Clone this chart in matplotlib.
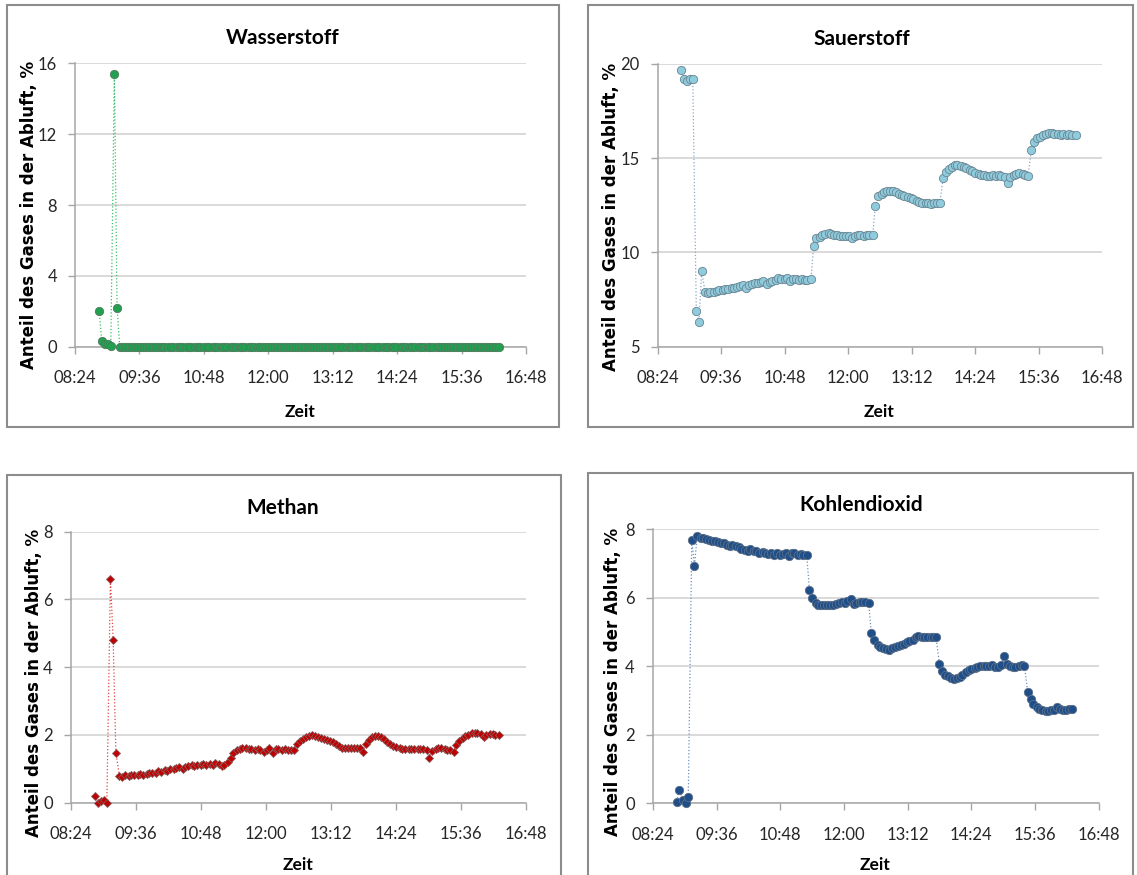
import numpy as np
import matplotlib
matplotlib.use("Agg")
import matplotlib.pyplot as plt
from matplotlib import font_manager
from matplotlib.patches import Rectangle

# measurement times (same for all four gases)
times = [
    "08:51", "08:54", "08:58",
    "09:01", "09:04", "09:08", "09:11", "09:14", "09:18", "09:21", "09:24", "09:28",
    "09:31", "09:34", "09:38", "09:41", "09:44", "09:48", "09:51", "09:54", "09:58",
    "10:01", "10:04", "10:08", "10:11", "10:14", "10:18", "10:21", "10:24", "10:28",
    "10:31", "10:34", "10:38", "10:41", "10:44", "10:48", "10:51", "10:54", "10:58",
    "11:01", "11:04", "11:08", "11:11", "11:14", "11:18", "11:21", "11:24", "11:28",
    "11:31", "11:34", "11:38", "11:41", "11:44", "11:48", "11:51", "11:54", "11:58",
    "12:01", "12:04", "12:08", "12:11", "12:14", "12:18", "12:21", "12:24", "12:28",
    "12:31", "12:34", "12:38", "12:41", "12:44", "12:48", "12:51", "12:54", "12:58",
    "13:01", "13:04", "13:08", "13:11", "13:14", "13:18", "13:21", "13:24", "13:28",
    "13:31", "13:34", "13:38", "13:41", "13:44", "13:48", "13:51", "13:54", "13:58",
    "14:01", "14:04", "14:08", "14:11", "14:14", "14:18", "14:21", "14:24", "14:28",
    "14:31", "14:34", "14:38", "14:41", "14:44", "14:48", "14:51", "14:54", "14:58",
    "15:01", "15:04", "15:08", "15:11", "15:14", "15:18", "15:21", "15:24", "15:28",
    "15:31", "15:34", "15:38", "15:41", "15:44", "15:48", "15:51", "15:54", "15:58",
    "16:01", "16:04", "16:08", "16:11", "16:14", "16:18",
]

# Wasserstoff, %
h2 = [
    2.0, 0.3, 0.15, 0.15, 0.05, 15.4, 2.2, 0.0, 0.0, 0.0,
    0.0, 0.0, 0.0, 0.0, 0.0, 0.0, 0.0, 0.0, 0.0, 0.0, 0.0, 0.0, 0.0, 0.0, 0.0,
    0.0, 0.0, 0.0, 0.0, 0.0, 0.0, 0.0, 0.0, 0.0, 0.0, 0.0, 0.0, 0.0, 0.0, 0.0,
    0.0, 0.0, 0.0, 0.0, 0.0, 0.0, 0.0, 0.0, 0.0, 0.0, 0.0, 0.0, 0.0, 0.0, 0.0,
    0.0, 0.0, 0.0, 0.0, 0.0, 0.0, 0.0, 0.0, 0.0, 0.0, 0.0, 0.0, 0.0, 0.0, 0.0,
    0.0, 0.0, 0.0, 0.0, 0.0, 0.0, 0.0, 0.0, 0.0, 0.0, 0.0, 0.0, 0.0, 0.0, 0.0,
    0.0, 0.0, 0.0, 0.0, 0.0, 0.0, 0.0, 0.0, 0.0, 0.0, 0.0, 0.0, 0.0, 0.0, 0.0,
    0.0, 0.0, 0.0, 0.0, 0.0, 0.0, 0.0, 0.0, 0.0, 0.0, 0.0, 0.0, 0.0, 0.0, 0.0,
    0.0, 0.0, 0.0, 0.0, 0.0, 0.0, 0.0, 0.0, 0.0, 0.0, 0.0, 0.0, 0.0, 0.0, 0.0,
    0.0, 0.0, 0.0, 0.0, 0.0,
]

# Sauerstoff, %
o2 = [
    19.7, 19.2, 19.1, 19.2, 19.2, 6.9, 6.3, 9.0, 7.9, 7.85,
    7.88, 7.92, 7.95, 8.0, 8.02, 8.05, 8.08, 8.1, 8.12, 8.15,
    8.22, 8.28, 8.12, 8.25, 8.32, 8.38, 8.4, 8.44, 8.46, 8.35,
    8.42, 8.48, 8.55, 8.62, 8.6, 8.58, 8.63, 8.5, 8.6, 8.58,
    8.55, 8.6, 8.56, 8.55, 8.58, 10.35, 10.76, 10.82, 10.95, 11.0,
    11.02, 10.98, 10.95, 10.92, 10.9, 10.85, 10.9, 10.88, 10.75, 10.9,
    10.95, 10.92, 10.9, 10.93, 10.92, 10.92, 12.49, 12.97, 13.1, 13.23,
    13.25, 13.27, 13.27, 13.2, 13.1, 13.06, 13.0, 12.95, 12.88, 12.82,
    12.75, 12.7, 12.65, 12.62, 12.6, 12.58, 12.62, 12.6, 12.6, 13.97,
    14.25, 14.42, 14.55, 14.62, 14.65, 14.6, 14.55, 14.5, 14.4, 14.3,
    14.22, 14.15, 14.12, 14.1, 14.08, 14.08, 14.1, 14.05, 14.1, 14.05,
    14.0, 13.67, 14.0, 14.1, 14.15, 14.2, 14.15, 14.1, 14.05, 15.44,
    15.88, 16.05, 16.15, 16.22, 16.28, 16.33, 16.32, 16.3, 16.28, 16.22,
    16.28, 16.25, 16.26, 16.25, 16.25,
]

# Methan, %
ch4 = [
    0.19, 0.0, 0.05, 0.07, 0.0, 6.6, 4.79, 1.47, 0.78, 0.76,
    0.8, 0.78, 0.8, 0.82, 0.8, 0.84, 0.82, 0.83, 0.86, 0.87,
    0.88, 0.92, 0.9, 0.95, 0.94, 0.98, 1.0, 1.03, 1.05, 0.98,
    1.05, 1.08, 1.1, 1.07, 1.12, 1.1, 1.15, 1.12, 1.14, 1.1,
    1.18, 1.15, 1.08, 1.12, 1.2, 1.3, 1.45, 1.54, 1.58, 1.6,
    1.6, 1.58, 1.57, 1.55, 1.58, 1.55, 1.48, 1.55, 1.6, 1.47,
    1.58, 1.57, 1.56, 1.57, 1.55, 1.55, 1.54, 1.73, 1.82, 1.88,
    1.93, 1.97, 2.0, 1.97, 1.93, 1.9, 1.88, 1.85, 1.82, 1.78,
    1.72, 1.66, 1.6, 1.6, 1.61, 1.6, 1.6, 1.61, 1.6, 1.48,
    1.72, 1.85, 1.92, 1.96, 1.95, 1.92, 1.86, 1.8, 1.72, 1.68,
    1.65, 1.62, 1.59, 1.58, 1.58, 1.59, 1.58, 1.58, 1.59, 1.57,
    1.55, 1.32, 1.52, 1.58, 1.62, 1.6, 1.58, 1.55, 1.56, 1.5,
    1.71, 1.82, 1.9, 1.96, 2.0, 2.04, 2.05, 2.05, 2.02, 1.94,
    2.0, 2.02, 2.01, 2.0, 1.98,
]

# Kohlendioxid, %
co2 = [
    0.05, 0.39, 0.1, 0.0, 0.18, 7.69, 6.93, 7.79, 7.76, 7.75,
    7.72, 7.68, 7.66, 7.65, 7.62, 7.6, 7.6, 7.55, 7.52, 7.55,
    7.5, 7.48, 7.42, 7.4, 7.38, 7.42, 7.36, 7.38, 7.32, 7.35,
    7.3, 7.28, 7.3, 7.25, 7.32, 7.25, 7.28, 7.3, 7.22, 7.3,
    7.32, 7.25, 7.28, 7.26, 7.24, 6.22, 5.98, 5.85, 5.8, 5.78,
    5.78, 5.8, 5.78, 5.8, 5.82, 5.85, 5.88, 5.85, 5.9, 5.97,
    5.82, 5.85, 5.88, 5.87, 5.88, 5.85, 4.96, 4.76, 4.62, 4.56,
    4.52, 4.5, 4.48, 4.52, 4.56, 4.6, 4.62, 4.66, 4.7, 4.75,
    4.78, 4.85, 4.88, 4.86, 4.87, 4.86, 4.87, 4.86, 4.86, 4.08,
    3.85, 3.76, 3.71, 3.67, 3.64, 3.66, 3.7, 3.76, 3.82, 3.88,
    3.92, 3.96, 3.98, 4.0, 4.02, 4.02, 4.0, 4.03, 3.98, 3.98,
    4.05, 4.3, 4.08, 4.0, 3.98, 3.97, 4.02, 4.03, 4.02, 3.24,
    3.05, 2.9, 2.8, 2.75, 2.72, 2.7, 2.7, 2.72, 2.72, 2.8,
    2.75, 2.72, 2.72, 2.74, 2.74,
]

x_ticks = ["08:24", "09:36", "10:48", "12:00", "13:12", "14:24", "15:36", "16:48"]


def to_min(t):
    h, m = t.split(":")
    return int(h) * 60 + int(m)


def pick_font(names):
    for n in names:
        try:
            font_manager.findfont(n, fallback_to_default=False)
            return n
        except ValueError:
            pass
    return "DejaVu Sans"


narrow = pick_font(["Liberation Sans Narrow", "Lato"])

W, H = 1137, 875
fig = plt.figure(figsize=(W / 100, H / 100), dpi=100)

x = np.array([to_min(t) for t in times])
xt = [to_min(t) for t in x_ticks]


def px_rect(x0, y0, x1, y1):
    return [x0 / W, 1 - y1 / H, (x1 - x0) / W, (y1 - y0) / H]


def fig_text(px, py, s, **kw):
    fig.text(px / W, 1 - py / H, s, ha="center", va="center", **kw)


# (data, title, ylim, yticks, axes box px, frame px, title pos, zeit pos, ylabel pos, style)
panels = [
    (h2, "Wasserstoff", (0, 16), [0, 4, 8, 12, 16],
     (75, 63.3, 526, 346.7), (6.5, 4.5, 559, 426.5),
     (283, 37.5), (300, 411.7), (28.6, 215),
     dict(marker="o", ms=6, mfc="#22a050", mec="#4f7a5e", color="#3cbf6a")),
    (o2, "Sauerstoff", (5, 20), [5, 10, 15, 20],
     (657.5, 64, 1102, 346.7), (588, 5, 1133, 426.5),
     (862, 39), (879, 411.7), (611, 216.7),
     dict(marker="o", ms=6, mfc="#8ecbdd", mec="#6a8592", color="#8aa6c8")),
    (ch4, "Methan", (0, 8), [0, 2, 4, 6, 8],
     (70.7, 531.5, 526, 802.5), (6.5, 475, 561, 880),
     (283, 507.5), (298, 865), (34, 683),
     dict(marker="D", ms=3.8, mfc="#c00000", mec="#8a5a5a", color="#e04848")),
    (co2, "Kohlendioxid", (0, 8), [0, 2, 4, 6, 8],
     (652.9, 529.3, 1098.6, 803.3), (588, 472.7, 1133, 880),
     (861, 505), (875, 865), (613, 682),
     dict(marker="o", ms=6, mfc="#1f4e89", mec="#5a6f88", color="#6d8fc0")),
]

for vals, title, ylim, yticks, box, frame, tpos, zpos, ypos, style in panels:
    # chart frame like the Excel chart area
    fig.patches.append(Rectangle((frame[0] / W, 1 - frame[3] / H),
                                 (frame[2] - frame[0]) / W, (frame[3] - frame[1]) / H,
                                 transform=fig.transFigure, fill=False,
                                 edgecolor="#8c8c8c", lw=1.5))
    ax = fig.add_axes(px_rect(*box))
    ax.plot(x, vals, linestyle=":", lw=0.9, mew=0.6, zorder=3, clip_on=False, **style)
    ax.set_xlim(xt[0], xt[-1])
    ax.set_ylim(*ylim)
    ax.set_xticks(xt)
    ax.set_xticklabels(x_ticks)
    ax.set_yticks(yticks)
    ax.set_axisbelow(True)
    ax.yaxis.grid(True, color="#d9d9d9", lw=1.4)
    for s in ["top", "right"]:
        ax.spines[s].set_visible(False)
    for s in ["left", "bottom"]:
        ax.spines[s].set_color("#a6a6a6")
        ax.spines[s].set_linewidth(1.1)
    ax.tick_params(direction="out", length=5, width=1, color="#a6a6a6",
                   labelsize=12, labelcolor="#262626")
    ax.tick_params(axis="x", pad=12)
    ax.tick_params(axis="y", pad=8)
    for lab in ax.get_xticklabels() + ax.get_yticklabels():
        lab.set_family(narrow)
    fig_text(tpos[0], tpos[1], title, fontsize=15, fontweight="bold", family=narrow)
    fig_text(zpos[0], zpos[1], "Zeit", fontsize=12.5, fontweight="bold", family=narrow)
    fig_text(ypos[0], ypos[1], "Anteil des Gases in der Abluft, %", rotation=90,
             fontsize=12, fontweight="bold", family="DejaVu Sans")

fig.savefig("out.png", dpi=100)
